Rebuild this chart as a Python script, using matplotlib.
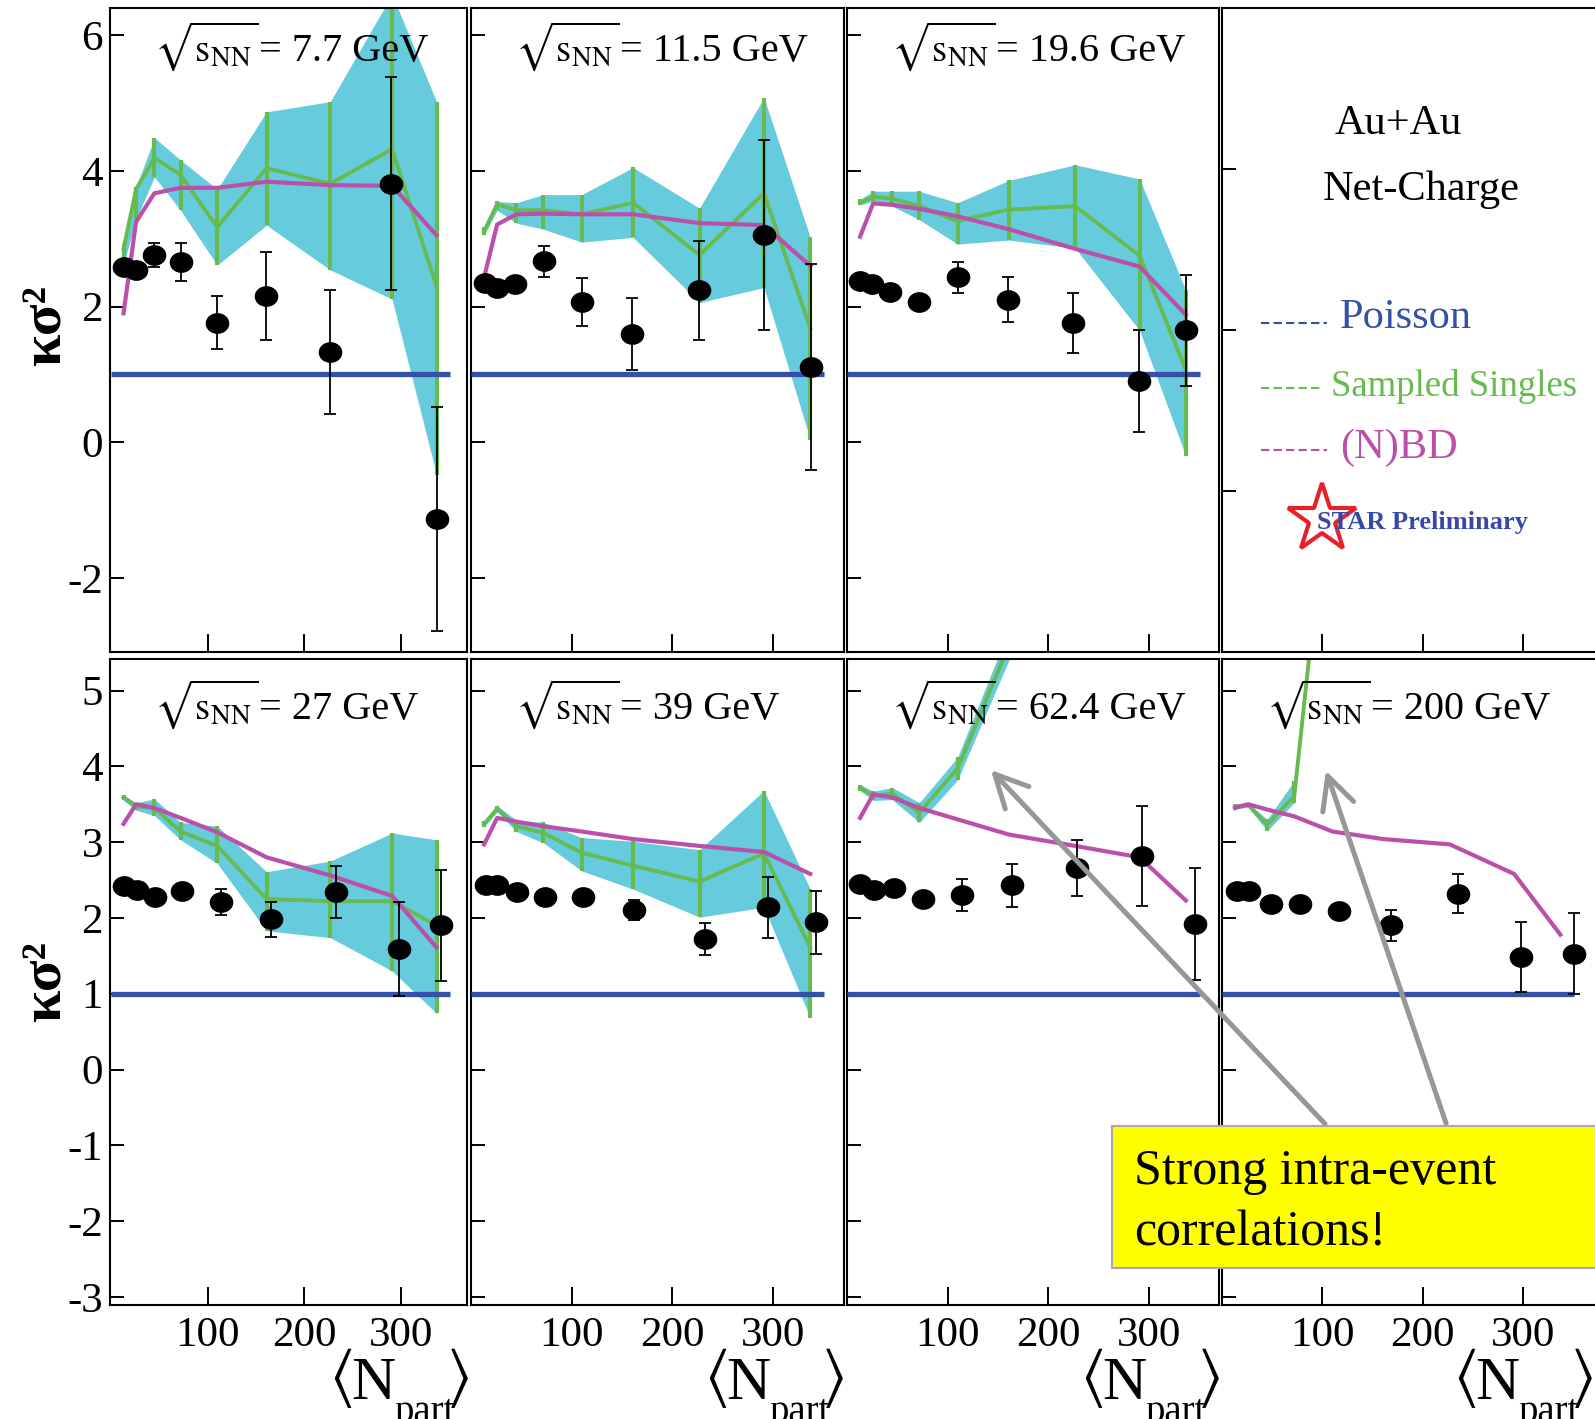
import numpy as np
import matplotlib
matplotlib.use("Agg")
import matplotlib.pyplot as plt
from matplotlib.path import Path
from matplotlib.lines import Line2D
from matplotlib.patches import Rectangle, FancyArrowPatch

plt.rcParams['font.family'] = ['Liberation Serif', 'DejaVu Serif']
plt.rcParams['mathtext.fontset'] = 'stix'
plt.rcParams['axes.unicode_minus'] = False

# ---------------------------------------------------------------- data
energies = ["7.7", "11.5", "19.6", "27", "39", "62.4", "200"]

# centrality bins used for the model curves
model_npart = [13, 26, 45, 72, 110, 161, 227, 291, 337]

# measured net-charge kappa*sigma^2
npart_7 = [14, 26, 45, 73, 110, 160, 227, 290, 337]
kvar_7 = [2.59, 2.54, 2.76, 2.65, 1.76, 2.16, 1.33, 3.81, -1.13]
err_7 = [0.0, 0.0, 0.17, 0.28, 0.39, 0.65, 0.92, 1.57, 1.65]

npart_11 = [14, 26, 44, 73, 110, 160, 226, 291, 338]
kvar_11 = [2.35, 2.28, 2.33, 2.67, 2.07, 1.60, 2.24, 3.05, 1.11]
err_11 = [0.0, 0.0, 0.0, 0.23, 0.35, 0.53, 0.73, 1.40, 1.52]

npart_19 = [13, 25, 43, 72, 110, 160, 225, 290, 337]
kvar_19 = [2.37, 2.33, 2.22, 2.07, 2.43, 2.10, 1.76, 0.90, 1.65]
err_19 = [0.0, 0.0, 0.0, 0.06, 0.23, 0.33, 0.44, 0.75, 0.82]

npart_27 = [13, 27, 46, 74, 114, 166, 233, 298, 342]
kvar_27 = [2.42, 2.37, 2.27, 2.36, 2.21, 1.98, 2.34, 1.59, 1.90]
err_27 = [0.0, 0.0, 0.0, 0.0, 0.17, 0.23, 0.34, 0.62, 0.73]

npart_39 = [15, 26, 46, 74, 111, 162, 232, 295, 343]
kvar_39 = [2.43, 2.44, 2.34, 2.27, 2.27, 2.10, 1.72, 2.14, 1.94]
err_39 = [0.0, 0.0, 0.0, 0.0, 0.0, 0.13, 0.21, 0.40, 0.42]

npart_62 = [13, 27, 47, 76, 114, 164, 229, 293, 346]
kvar_62 = [2.45, 2.37, 2.40, 2.25, 2.30, 2.43, 2.66, 2.82, 1.92]
err_62 = [0.0, 0.0, 0.0, 0.0, 0.21, 0.28, 0.37, 0.66, 0.74]

npart_200 = [15, 27, 49, 78, 117, 168, 235, 298, 351]
kvar_200 = [2.35, 2.36, 2.18, 2.18, 2.09, 1.90, 2.32, 1.48, 1.53]
err_200 = [0.0, 0.0, 0.0, 0.0, 0.05, 0.20, 0.26, 0.46, 0.53]

# sampled singles: central value and range
ss_7 = [2.85, 3.73, 4.19, 3.94, 3.17, 4.04, 3.81, 4.32, 2.30]
ss_lo_7 = [2.62, 3.29, 3.91, 3.42, 2.61, 3.20, 2.54, 2.11, -0.48]
ss_hi_7 = [2.92, 3.76, 4.49, 4.16, 3.73, 4.87, 5.02, 6.60, 5.02]

ss_11 = [3.11, 3.51, 3.42, 3.42, 3.36, 3.53, 2.76, 3.67, 1.68]
ss_lo_11 = [3.05, 3.42, 3.23, 3.14, 2.95, 3.02, 2.06, 2.28, 0.04]
ss_hi_11 = [3.17, 3.55, 3.53, 3.65, 3.65, 4.05, 3.45, 5.08, 3.02]

ss_19 = [3.53, 3.62, 3.59, 3.48, 3.26, 3.43, 3.48, 2.75, 1.07]
ss_lo_19 = [3.50, 3.55, 3.48, 3.28, 2.92, 2.98, 2.86, 1.65, -0.20]
ss_hi_19 = [3.58, 3.70, 3.70, 3.70, 3.53, 3.86, 4.09, 3.88, 2.24]

ss_27 = [3.59, 3.47, 3.45, 3.14, 2.95, 2.25, 2.22, 2.22, 1.90]
ss_lo_27 = [3.55, 3.42, 3.35, 3.03, 2.72, 1.83, 1.74, 1.30, 0.74]
ss_hi_27 = [3.62, 3.52, 3.57, 3.26, 3.21, 2.61, 2.75, 3.12, 3.03]

ss_39 = [3.24, 3.44, 3.21, 3.12, 2.86, 2.69, 2.48, 2.85, 1.61]
ss_lo_39 = [3.20, 3.40, 3.14, 2.99, 2.62, 2.38, 2.01, 2.14, 0.68]
ss_hi_39 = [3.28, 3.48, 3.29, 3.26, 3.06, 3.01, 2.90, 3.68, 2.38]

ss_62 = [3.72, 3.61, 3.64, 3.39, 3.97, 5.60, 7.50, 9.50, 11.0]
ss_lo_62 = [3.68, 3.55, 3.56, 3.26, 3.82, 5.40, 7.20, 9.20, 10.6]
ss_hi_62 = [3.76, 3.67, 3.72, 3.52, 4.12, 5.80, 7.80, 9.80, 11.4]

ss_200 = [3.47, 3.49, 3.23, 3.61, 8.30, 12.0, 15.0, 18.0, 20.0]
ss_lo_200 = [3.44, 3.46, 3.15, 3.52, 8.20, 11.8, 14.8, 17.8, 19.8]
ss_hi_200 = [3.50, 3.52, 3.30, 3.81, 8.40, 12.2, 15.2, 18.2, 20.2]

# (N)BD expectation
nbd_7 = [1.90, 3.25, 3.67, 3.75, 3.75, 3.84, 3.79, 3.78, 3.05]
nbd_11 = [2.43, 3.21, 3.36, 3.37, 3.36, 3.36, 3.23, 3.20, 2.60]
nbd_19 = [3.03, 3.52, 3.50, 3.44, 3.33, 3.14, 2.85, 2.59, 1.88]
nbd_27 = [3.24, 3.50, 3.45, 3.32, 3.13, 2.80, 2.56, 2.29, 1.61]
nbd_39 = [2.97, 3.32, 3.27, 3.21, 3.14, 3.04, 2.95, 2.87, 2.58]
nbd_62 = [3.32, 3.63, 3.59, 3.45, 3.30, 3.10, 2.95, 2.80, 2.23]
nbd_200 = [3.45, 3.50, 3.43, 3.34, 3.14, 3.04, 2.97, 2.58, 1.78]

poisson_level = 1.0
poisson_range = [0, 351]

xticks = [100, 200, 300]
yticks_top = [6, 4, 2, 0, -2]
yticks_bot = [5, 4, 3, 2, 1, 0, -1, -2, -3]

panels = [
    (npart_7, kvar_7, err_7, ss_7, ss_lo_7, ss_hi_7, nbd_7),
    (npart_11, kvar_11, err_11, ss_11, ss_lo_11, ss_hi_11, nbd_11),
    (npart_19, kvar_19, err_19, ss_19, ss_lo_19, ss_hi_19, nbd_19),
    (npart_27, kvar_27, err_27, ss_27, ss_lo_27, ss_hi_27, nbd_27),
    (npart_39, kvar_39, err_39, ss_39, ss_lo_39, ss_hi_39, nbd_39),
    (npart_62, kvar_62, err_62, ss_62, ss_lo_62, ss_hi_62, nbd_62),
    (npart_200, kvar_200, err_200, ss_200, ss_lo_200, ss_hi_200, nbd_200),
]

# ---------------------------------------------------------------- style
C_BAND = "#66CCDD"
C_SS = "#66BB50"
C_NBD = "#BB50AA"
C_POIS = "#3450A8"
C_ARROW = "#979797"

W, H = 1595, 1419
fig = plt.figure(figsize=(W / 100, H / 100), dpi=100)
fig.patch.set_facecolor("white")


def add_px_axes(l, t, r, b):
    return fig.add_axes([l / W, 1 - b / H, (r - l) / W, (b - t) / H])


def ftext(x, y, s, **kw):
    return fig.text(x / W, 1 - y / H, s, **kw)


cols = [(110, 467), (471, 844), (847, 1219), (1222, 1600)]
rows = [(8, 652), (659, 1305)]
xlims = [(-1, 368.5), (0, 370.5), (0, 370), (0, 376.5)]
ylims = [(-3.09, 6.40), (-3.107, 5.416)]

circ = Path.unit_circle()
ellipse = Path(circ.vertices * np.array([1.15, 1.0]), circ.codes)


def style_axes(ax, row, col):
    for sp in ax.spines.values():
        sp.set_linewidth(1.5)
        sp.set_color("black")
    ax.set_xlim(*xlims[col])
    ax.set_xticks(xticks)
    ax.tick_params(axis="x", direction="in", length=13, width=1.4,
                   top=False, labelsize=31, pad=8)
    ax.tick_params(axis="y", direction="in", length=10, width=1.4,
                   right=False, labelsize=31, pad=5)
    ax.set_xticklabels([str(t) for t in xticks] if row == 1 else [])


axes = []
k = 0
for r, (t, b) in enumerate(rows):
    for c, (l, rr) in enumerate(cols):
        ax = add_px_axes(l, t, rr, b)
        style_axes(ax, r, c)
        if r == 0 and c == 3:
            ax.set_ylim(0, 4)
            ax.set_yticks([1, 2, 3])
            ax.set_yticklabels([])
            axes.append(ax)
            continue
        ax.set_ylim(*ylims[r])
        yt = yticks_top if r == 0 else yticks_bot
        ax.set_yticks(yt)
        ax.set_yticklabels([str(v) for v in yt] if c == 0 else [])

        npd, kv, er, ss, lo, hi, nbd = panels[k]
        ax.fill_between(model_npart, lo, hi, color=C_BAND, lw=0, zorder=1)
        ax.vlines(model_npart, lo, hi, color=C_SS, lw=3.0, zorder=2)
        ax.plot(model_npart, ss, color=C_SS, lw=2.8, zorder=2)
        ax.plot(poisson_range, [poisson_level, poisson_level], color=C_POIS,
                lw=3.8, zorder=3, solid_capstyle="butt")
        ax.plot(model_npart, nbd, color=C_NBD, lw=3.0, zorder=4)
        er = np.array(er)
        m = er > 0
        ax.errorbar(np.array(npd)[m], np.array(kv)[m], yerr=er[m], fmt="none",
                    ecolor="black", elinewidth=1.3, capsize=4, capthick=1.3,
                    zorder=5)
        ax.plot(npd, kv, ls="none", marker=ellipse, ms=16, color="black",
                zorder=6)
        # collision energy label
        base = t + (53 if r == 0 else 60)
        ftext(l + 44, base, r"$\sqrt{\mathrm{s}_{\mathrm{NN}}}$",
              fontsize=28, ha="left", va="baseline", zorder=10)
        ftext(l + 44 + 105, base, "= " + energies[k] + " GeV",
              fontsize=29, ha="left", va="baseline", zorder=10)
        k += 1
        axes.append(ax)

# axis titles
for yc in (325, 981):
    ftext(46, yc, "κσ²", fontsize=42, fontweight="bold", rotation=90,
          ha="center", va="center")
for R in (468, 843, 1219, 1592):
    ftext(R - 139, 1378, r"$\langle$", fontsize=46, ha="left", va="center")
    ftext(R - 117, 1399, "N", fontsize=44, ha="left", va="baseline")
    ftext(R - 74, 1422, "part", fontsize=28, ha="left", va="baseline")
    ftext(R + 1, 1378, r"$\rangle$", fontsize=46, ha="right", va="center")

# legend panel
ftext(1375 * 1.0172, 124, "Au+Au", fontsize=30.5, ha="center", va="center")
ftext(1397 * 1.0172, 190, "Net-Charge", fontsize=30.5, ha="center", va="center")
legend_rows = [
    (323, 318, "Poisson", C_POIS, 1340, 1327, 30.5),
    (388, 386, "Sampled Singles", C_SS, 1331, 1322, 26.5),
    (450, 448, "(N)BD", C_NBD, 1340, 1327, 30.5),
]
for ly, ty, label, col, tx, dend, fs in legend_rows:
    fig.add_artist(Line2D([1261 / W, dend / W], [1 - ly / H, 1 - ly / H],
                          color=col, lw=1.5, dashes=(4, 2)))
    ftext(tx, ty, label, fontsize=fs, color=col, ha="left", va="center")

fig.add_artist(Line2D([1322 / W], [1 - 519 / H], marker="*", ms=52,
                      mfc="none", mec="#E8202A", mew=3, ls="none"))
ftext(1317, 523, "STAR Preliminary", fontsize=19, fontweight="bold",
      color="#3848A8", ha="left", va="center")

# callout
for tail, head in [((1327, 1126), (989, 768)), ((1447, 1126), (1325, 768))]:
    arr = FancyArrowPatch((tail[0] / W, 1 - tail[1] / H),
                          (head[0] / W, 1 - head[1] / H),
                          transform=fig.transFigure,
                          arrowstyle="->,head_length=0.9,head_width=0.45",
                          mutation_scale=26, color=C_ARROW, lw=3.6,
                          zorder=20)
    fig.add_artist(arr)

box = Rectangle((1112 / W, 1 - 1268 / H), (1600 - 1112) / W, (1268 - 1126) / H,
                transform=fig.transFigure, facecolor="#FFFF00",
                edgecolor="#A8A8A8", lw=1.5, zorder=21)
fig.add_artist(box)
ftext(1134, 1172, "Strong intra-event", fontsize=36, ha="left", va="center",
      zorder=22)
ftext(1134, 1233, "correlations!", fontsize=36, ha="left", va="center",
      zorder=22)

fig.savefig("out.png", dpi=100)
